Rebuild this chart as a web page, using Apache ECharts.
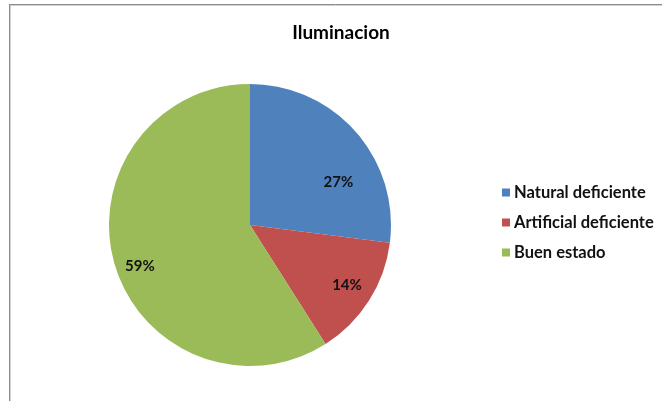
<!DOCTYPE html>
<html>
<head>
<meta charset="utf-8">
<script src="https://cdn.jsdelivr.net/npm/echarts@6/dist/echarts.min.js"></script>
<style>
html,body{margin:0;padding:0;background:#fff;}
#chart{width:662px;height:401px;}
</style>
</head>
<body>
<div id="chart"></div>
<script>
const titleText = 'Iluminacion';
const categories = ['Natural deficiente', 'Artificial deficiente', 'Buen estado'];
const values = [27, 14, 59];
const colors = ['#4F81BD', '#C0504D', '#9BBB59'];
// label nudges (style only), to mimic the spreadsheet's best-fit placement
const labelNudges = [[4, 32], [2, 0], [-2, 10]];

const chart = echarts.init(document.getElementById('chart'), null, {renderer: 'canvas'});
const fontFam = 'Lato, "Open Sans", sans-serif';
const pieData = categories.map((c, i) => ({name: c, value: values[i], itemStyle: {color: colors[i]}}));
const labelData = categories.map((c, i) => ({name: c, value: values[i], label: {offset: labelNudges[i]}}));

chart.setOption({
  animation: false,
  backgroundColor: '#fff',
  title: {
    text: titleText,
    left: 336, top: 18, textAlign: 'center',
    textStyle: {fontFamily: fontFam, fontWeight: 'bold', fontSize: 19, color: '#000'}
  },
  legend: {
    orient: 'vertical',
    left: 497, top: 179,
    itemWidth: 8, itemHeight: 8, itemGap: 13,
    icon: 'rect',
    data: categories,
    textStyle: {fontFamily: fontFam, fontWeight: 'bold', fontSize: 16.5, color: '#111', padding: [0,0,0,-1]}
  },
  graphic: [
    {type: 'line', shape: {x1: 9.5, y1: 4, x2: 9.5, y2: 401}, style: {stroke: '#8c8c8c', lineWidth: 1}, silent: true},
    {type: 'line', shape: {x1: 9, y1: 4.5, x2: 662, y2: 4.5}, style: {stroke: '#8c8c8c', lineWidth: 1}, silent: true},
    {type: 'line', shape: {x1: 10.5, y1: 5, x2: 10.5, y2: 401}, style: {stroke: '#d0d0d0', lineWidth: 1}, silent: true},
    {type: 'line', shape: {x1: 10, y1: 5.5, x2: 662, y2: 5.5}, style: {stroke: '#d0d0d0', lineWidth: 1}, silent: true}
  ],
  series: [
    {
      type: 'pie',
      center: [250, 225],
      radius: [0, 141],
      startAngle: 90,
      clockwise: true,
      silent: true,
      itemStyle: {borderWidth: 0},
      label: {show: false},
      labelLine: {show: false},
      data: pieData
    },
    {
      type: 'pie',
      center: [250, 225],
      radius: [78, 141],
      startAngle: 90,
      clockwise: true,
      silent: true,
      itemStyle: {color: 'rgba(0,0,0,0)', borderWidth: 0},
      label: {
        show: true, position: 'inside',
        formatter: p => p.value + '%',
        fontFamily: fontFam, fontWeight: 'bold', fontSize: 15, color: '#111'
      },
      labelLine: {show: false},
      data: labelData
    }
  ]
});
</script>
</body>
</html>
